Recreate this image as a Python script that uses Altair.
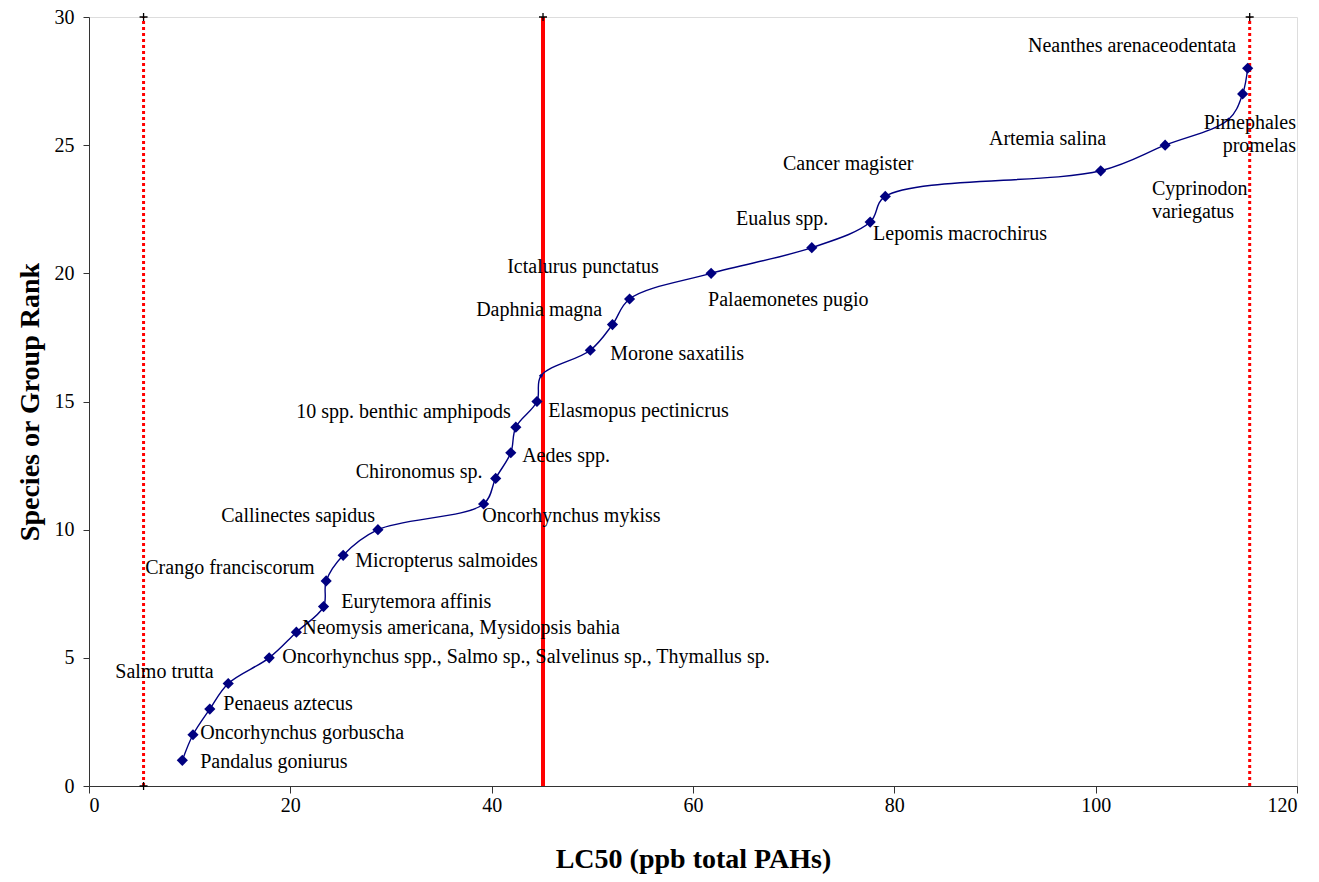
import altair as alt
import pandas as pd

# Species ranks and LC50 values (ppb total PAHs)
ranks = list(range(1, 29))
lc50 = [9.27, 10.33, 12.0, 13.83, 17.9, 20.6, 23.3, 23.56, 25.25, 28.7,
        39.2, 40.4, 41.9, 42.4, 44.5, 44.9, 49.8, 52.0, 53.7, 61.8,
        71.8, 77.6, 79.1, 100.5, 106.9, 113.2, 114.6, 115.1]
small_marker = [16, 26]

# Labels and their anchor points (data units)
labels = ["Pandalus goniurus", "Oncorhynchus gorbuscha", "Penaeus aztecus", "Salmo trutta",
          "Oncorhynchus spp., Salmo sp., Salvelinus sp., Thymallus sp.",
          "Neomysis americana, Mysidopsis bahia", "Eurytemora affinis", "Crango franciscorum",
          "Micropterus salmoides", "Callinectes sapidus", "Oncorhynchus mykiss", "Chironomus sp.",
          "Aedes spp.", "10 spp. benthic amphipods", "Elasmopus pectinicrus", "Morone saxatilis",
          "Daphnia magna", "Ictalurus punctatus", "Palaemonetes pugio", "Eualus spp.",
          "Lepomis macrochirus", "Cancer magister", "Artemia salina", "Cyprinodon\nvariegatus",
          "Neanthes arenaceodentata"]
label_x = [11.05, 11.05, 13.34, 2.61, 19.2, 21.18, 25.05, 5.59, 26.44, 13.14, 39.06, 26.5,
           43.03, 20.59, 45.61, 51.77, 38.46, 41.54, 61.5, 64.28, 77.89, 68.94, 89.4, 105.59, 93.28]
label_y = [0.94, 2.07, 3.20, 4.45, 5.03, 6.16, 7.18, 8.5, 8.78, 10.53, 10.53, 12.25, 12.88,
           14.59, 14.63, 16.86, 18.57, 20.25, 18.96, 22.12, 21.54, 24.27, 25.24, 23.29, 28.87]
right_labels = ["Pimephales\npromelas"]
right_label_x = [119.9]
right_label_y = [25.87]

# Reference lines (LC50 percentiles)
ref_x = [5.42, 45.1, 115.3]
ref_style = ["dotted", "solid", "dotted"]

xticks = [0, 20, 40, 60, 80, 100, 120]
yticks = [0, 5, 10, 15, 20, 25, 30]

FONT = "Liberation Serif"
NAVY = "#000080"

pts = pd.DataFrame({"rank": ranks, "lc50": lc50})
pts["small"] = pts["rank"].isin(small_marker)
lab = pd.DataFrame({"x": label_x, "y": label_y, "t": labels})
rlab = pd.DataFrame({"x": right_label_x, "y": right_label_y, "t": right_labels})
refs = pd.DataFrame({"x": ref_x, "style": ref_style, "y0": [0] * 3, "y1": [30] * 3})

xs = alt.Scale(domain=[0, 120], nice=False, zero=False)
ys = alt.Scale(domain=[0, 30], nice=False, zero=False)

xax = alt.Axis(values=xticks, title="LC50 (ppb total PAHs)", grid=False, tickSize=7,
               labelFont=FONT, labelFontSize=20, labelColor="black", labelPadding=2,
               titleFont=FONT, titleFontSize=28, titleFontWeight="bold", titleColor="black",
               titlePadding=30, domainColor="#333333", tickColor="#333333")
yax = alt.Axis(values=yticks, title="Species or Group Rank", grid=False, tickSize=6,
               labelFont=FONT, labelFontSize=20, labelColor="black", labelPadding=9,
               titleFont=FONT, titleFontSize=28, titleFontWeight="bold", titleColor="black",
               titlePadding=10, domainColor="#333333", tickColor="#333333")

base = alt.Chart(pts)

line = base.mark_line(color=NAVY, strokeWidth=1.4, interpolate="catmull-rom").encode(
    x=alt.X("lc50:Q", scale=xs, axis=xax),
    y=alt.Y("rank:Q", scale=ys, axis=yax),
    order=alt.Order("rank:Q"),
)

big = base.transform_filter("!datum.small").mark_point(
    shape="diamond", filled=True, color=NAVY, size=125, opacity=1).encode(
    x=alt.X("lc50:Q", scale=xs), y=alt.Y("rank:Q", scale=ys))
small = base.transform_filter("datum.small").mark_point(
    shape="diamond", filled=True, color=NAVY, size=18, opacity=1).encode(
    x=alt.X("lc50:Q", scale=xs), y=alt.Y("rank:Q", scale=ys))

refbase = alt.Chart(refs)
dotted = refbase.transform_filter("datum.style == 'dotted'").mark_rule(
    color="#ff0000", strokeWidth=3, strokeDash=[3, 3]).encode(
    x=alt.X("x:Q", scale=xs), y=alt.Y("y0:Q", scale=ys), y2="y1:Q")
solid = refbase.transform_filter("datum.style == 'solid'").mark_rule(
    color="#ff0000", strokeWidth=4).encode(
    x=alt.X("x:Q", scale=xs), y=alt.Y("y0:Q", scale=ys), y2="y1:Q")
plus_top = refbase.mark_point(shape="M-1,0L1,0M0,-1L0,1", filled=False, color="black",
                              strokeWidth=1.3, size=64, opacity=1).encode(
    x=alt.X("x:Q", scale=xs), y=alt.Y("y1:Q", scale=ys))
plus_bot = refbase.transform_filter("datum.x < 10").mark_point(
    shape="M-1,0L1,0M0,-1L0,1", filled=False, color="black",
    strokeWidth=1.3, size=64, opacity=1).encode(
    x=alt.X("x:Q", scale=xs), y=alt.Y("y0:Q", scale=ys))

text_l = alt.Chart(lab).mark_text(align="left", baseline="middle", font=FONT, fontSize=20,
                                  color="black", lineBreak="\n", lineHeight=23).encode(
    x=alt.X("x:Q", scale=xs), y=alt.Y("y:Q", scale=ys), text="t:N")
text_r = alt.Chart(rlab).mark_text(align="right", baseline="middle", font=FONT, fontSize=20,
                                   color="black", lineBreak="\n", lineHeight=23).encode(
    x=alt.X("x:Q", scale=xs), y=alt.Y("y:Q", scale=ys), text="t:N")

chart = alt.layer(dotted, solid, line, big, small, plus_top, plus_bot, text_l, text_r).properties(
    width=1208, height=769,
    autosize=alt.AutoSizeParams(type="none"),
    padding={"left": 89, "top": 17, "right": 22, "bottom": 96},
).configure_view(stroke="#999999", strokeWidth=1.5).configure(background="white")

chart.save("out.html", embed_options={"renderer": "svg", "actions": False})
